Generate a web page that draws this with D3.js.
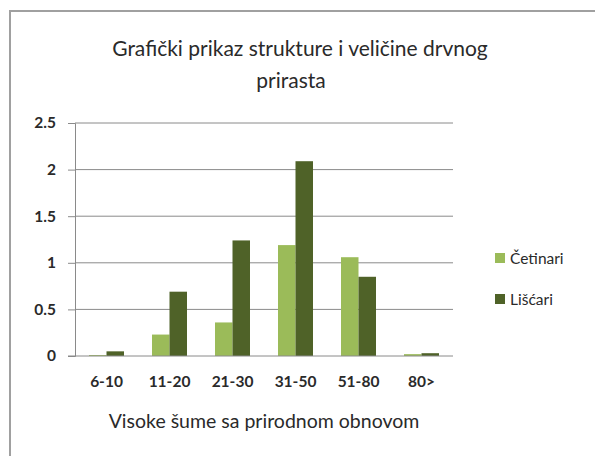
<!DOCTYPE html>
<html>
<head>
<meta charset="utf-8">
<script src="https://cdn.jsdelivr.net/npm/d3@7"></script>
<style>
  body { margin: 0; background: #fff; }
  text { font-family: Lato, "Open Sans", sans-serif; fill: #2a2a2a; }
</style>
</head>
<body>
<svg id="chart"></svg>
<script>
const categories = ['6-10', '11-20', '21-30', '31-50', '51-80', '80>'];
const cetinari = [0.01, 0.23, 0.36, 1.19, 1.06, 0.02];
const liscari = [0.05, 0.69, 1.24, 2.09, 0.85, 0.03];
const seriesNames = ['Četinari', 'Lišćari'];
const seriesColors = ['#9bbb59', '#4f6228'];
const yTicks = [0, 0.5, 1, 1.5, 2, 2.5];

const W = 595, H = 456;
const margin = { top: 123, left: 75, right: 142, bottom: 100 };
const width = W - margin.left - margin.right;
const height = H - margin.top - margin.bottom;

const svg = d3.select('#chart').attr('width', W).attr('height', H);

// chart frame (only top and left edges visible in the reference)
svg.append('path')
  .attr('d', `M10,${H} L10,11 L${W},11`)
  .attr('fill', 'none').attr('stroke', '#a0a0a0').attr('stroke-width', 2);

const title = svg.append('text')
  .attr('text-anchor', 'middle')
  .style('font-size', '21px');
title.append('tspan').attr('x', 300).attr('y', 56).text('Grafički prikaz strukture i veličine drvnog');
title.append('tspan').attr('x', 291).attr('y', 88).text('prirasta');

const g = svg.append('g').attr('transform', `translate(${margin.left},${margin.top})`);

const x0 = d3.scaleBand().domain(categories).range([0, width]);
const x1 = d3.scaleBand().domain(seriesNames).range([0, x0.bandwidth()]).paddingOuter(0.8).paddingInner(0);
const y = d3.scaleLinear().domain([0, 2.5]).range([height, 0]);

// gridlines
g.append('g').attr('class', 'grid')
  .selectAll('line').data(yTicks.filter(d => d > 0)).join('line')
  .attr('x1', 0).attr('x2', width)
  .attr('y1', d => y(d)).attr('y2', d => y(d))
  .attr('stroke', '#8a8a8a').attr('stroke-width', 1);

// bars
const rows = categories.map((c, i) => ({ c, vals: [cetinari[i], liscari[i]] }));
const grp = g.append('g').selectAll('g').data(rows).join('g')
  .attr('transform', d => `translate(${x0(d.c)},0)`);
grp.selectAll('rect').data(d => d.vals.map((v, k) => ({ v, k }))).join('rect')
  .attr('x', d => x1(seriesNames[d.k]))
  .attr('width', x1.bandwidth())
  .attr('y', d => y(d.v))
  .attr('height', d => y(0) - y(d.v))
  .attr('fill', d => seriesColors[d.k]);

// axes
const yAxis = g.append('g').call(d3.axisLeft(y).tickValues(yTicks).tickSize(7).tickPadding(12).tickFormat(d3.format('')));
yAxis.select('.domain').attr('stroke', '#8a8a8a');
yAxis.selectAll('.tick line').attr('stroke', '#8a8a8a');
yAxis.selectAll('text').style('font-size', '15.5px').style('font-weight', 'bold')
  .style('font-family', 'Lato, sans-serif').attr('fill', '#333');

const xAxis = g.append('g').attr('transform', `translate(0,${height})`)
  .call(d3.axisBottom(x0).tickSize(0).tickPadding(20));
xAxis.select('.domain').attr('stroke', '#8a8a8a').attr('d', `M-7,0H${width}`);
xAxis.selectAll('text').style('font-size', '15.5px').style('font-weight', 'bold')
  .style('font-family', 'Lato, sans-serif').attr('fill', '#333');

svg.append('text')
  .attr('x', 264).attr('y', 428)
  .attr('text-anchor', 'middle')
  .style('font-size', '19.5px')
  .text('Visoke šume sa prirodnom obnovom');

// legend
const legend = svg.append('g').attr('transform', 'translate(495,0)');
const li = legend.selectAll('g').data(seriesNames).join('g')
  .attr('transform', (d, i) => `translate(0,${264 + i * 41})`);
li.append('rect').attr('x', 0).attr('y', -11).attr('width', 10).attr('height', 10)
  .attr('fill', (d, i) => seriesColors[i]);
li.append('text').attr('x', 15).attr('y', 0).style('font-size', '15.5px').text(d => d);
</script>
</body>
</html>
